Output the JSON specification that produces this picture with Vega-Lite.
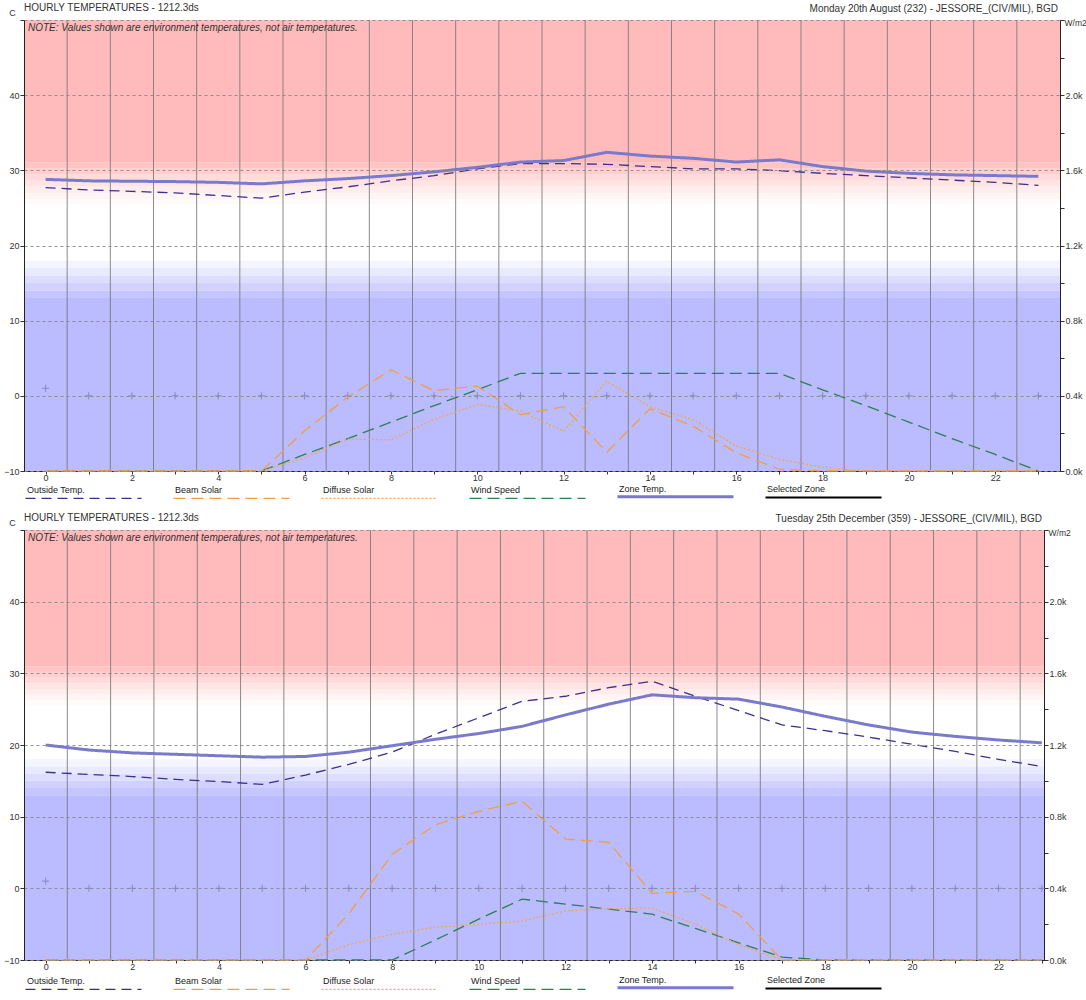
{
  "$schema": "https://vega.github.io/schema/vega-lite/v6.json",
  "background": "white",
  "padding": {"left": 3, "right": 0, "top": 2, "bottom": 0},
  "config": {
    "font": "Liberation Sans",
    "view": {"stroke": "#222", "strokeWidth": 1},
    "axis": {"labelFontSize": 9, "labelColor": "#333", "tickColor": "#333", "domainColor": "#222", "tickSize": 4, "labelPadding": 1, "titleFontSize": 10, "titleFontWeight": "normal", "titleColor": "#333"},
    "axisX": {"tickSize": 3, "labelPadding": -1},
    "legend": {"symbolType": "M0,0.4L14.5,0.4", "symbolSize": 256, "labelFontSize": 9, "labelColor": "#222", "padding": 0, "symbolStrokeWidth": 1.5, "labelOffset": -8, "labelBaseline": "bottom", "columnPadding": 16, "rowPadding": 0}
  },
  "datasets": {
    "hours": [
      {"panel": "aug", "hour": 0, "outside": 27.7, "zone": 28.8, "beam": 0, "diffuse": 0, "wind": -10, "marker": 1},
      {"panel": "aug", "hour": 1, "outside": 27.4, "zone": 28.6, "beam": 0, "diffuse": 0, "wind": -10, "marker": 0},
      {"panel": "aug", "hour": 2, "outside": 27.2, "zone": 28.55, "beam": 0, "diffuse": 0, "wind": -10, "marker": 0},
      {"panel": "aug", "hour": 3, "outside": 27.0, "zone": 28.5, "beam": 0, "diffuse": 0, "wind": -10, "marker": 0},
      {"panel": "aug", "hour": 4, "outside": 26.65, "zone": 28.4, "beam": 0, "diffuse": 0, "wind": -10, "marker": 0},
      {"panel": "aug", "hour": 5, "outside": 26.3, "zone": 28.2, "beam": 0, "diffuse": 0, "wind": -10, "marker": 0},
      {"panel": "aug", "hour": 6, "outside": 27.1, "zone": 28.6, "beam": 214, "diffuse": 71, "wind": -7.8, "marker": 0},
      {"panel": "aug", "hour": 7, "outside": 27.8, "zone": 28.9, "beam": 393, "diffuse": 170, "wind": -5.7, "marker": 0},
      {"panel": "aug", "hour": 8, "outside": 28.6, "zone": 29.3, "beam": 539, "diffuse": 166, "wind": -3.5, "marker": 0},
      {"panel": "aug", "hour": 9, "outside": 29.3, "zone": 29.8, "beam": 427, "diffuse": 275, "wind": -1.3, "marker": 0},
      {"panel": "aug", "hour": 10, "outside": 30.2, "zone": 30.4, "beam": 452, "diffuse": 354, "wind": 0.8, "marker": 0},
      {"panel": "aug", "hour": 11, "outside": 30.9, "zone": 31.1, "beam": 300, "diffuse": 319, "wind": 3, "marker": 0},
      {"panel": "aug", "hour": 12, "outside": 30.9, "zone": 31.3, "beam": 342, "diffuse": 212, "wind": 3, "marker": 0},
      {"panel": "aug", "hour": 13, "outside": 30.8, "zone": 32.4, "beam": 100, "diffuse": 478, "wind": 3, "marker": 0},
      {"panel": "aug", "hour": 14, "outside": 30.5, "zone": 31.9, "beam": 331, "diffuse": 342, "wind": 3, "marker": 0},
      {"panel": "aug", "hour": 15, "outside": 30.2, "zone": 31.6, "beam": 239, "diffuse": 274, "wind": 3, "marker": 0},
      {"panel": "aug", "hour": 16, "outside": 30.2, "zone": 31.1, "beam": 97, "diffuse": 133, "wind": 3, "marker": 0},
      {"panel": "aug", "hour": 17, "outside": 29.95, "zone": 31.4, "beam": 9, "diffuse": 62, "wind": 3, "marker": 0},
      {"panel": "aug", "hour": 18, "outside": 29.6, "zone": 30.5, "beam": 0, "diffuse": 20, "wind": 0.8, "marker": 0},
      {"panel": "aug", "hour": 19, "outside": 29.3, "zone": 29.9, "beam": 0, "diffuse": 0, "wind": -1.3, "marker": 0},
      {"panel": "aug", "hour": 20, "outside": 29.0, "zone": 29.6, "beam": 0, "diffuse": 0, "wind": -3.5, "marker": 0},
      {"panel": "aug", "hour": 21, "outside": 28.7, "zone": 29.4, "beam": 0, "diffuse": 0, "wind": -5.7, "marker": 0},
      {"panel": "aug", "hour": 22, "outside": 28.4, "zone": 29.3, "beam": 0, "diffuse": 0, "wind": -7.8, "marker": 0},
      {"panel": "aug", "hour": 23, "outside": 28.0, "zone": 29.2, "beam": 0, "diffuse": 0, "wind": -10, "marker": 0},
      {"panel": "dec", "hour": 0, "outside": 16.2, "zone": 20.0, "beam": 0, "diffuse": 0, "wind": -10, "marker": 1},
      {"panel": "dec", "hour": 1, "outside": 15.9, "zone": 19.3, "beam": 0, "diffuse": 0, "wind": -10, "marker": 0},
      {"panel": "dec", "hour": 2, "outside": 15.6, "zone": 18.9, "beam": 0, "diffuse": 0, "wind": -10, "marker": 0},
      {"panel": "dec", "hour": 3, "outside": 15.2, "zone": 18.7, "beam": 0, "diffuse": 0, "wind": -10, "marker": 0},
      {"panel": "dec", "hour": 4, "outside": 14.9, "zone": 18.5, "beam": 0, "diffuse": 0, "wind": -10, "marker": 0},
      {"panel": "dec", "hour": 5, "outside": 14.5, "zone": 18.3, "beam": 0, "diffuse": 0, "wind": -10, "marker": 0},
      {"panel": "dec", "hour": 6, "outside": 15.8, "zone": 18.4, "beam": 0, "diffuse": 0, "wind": -10, "marker": 0},
      {"panel": "dec", "hour": 7, "outside": 17.3, "zone": 19.0, "beam": 257, "diffuse": 86, "wind": -10, "marker": 0},
      {"panel": "dec", "hour": 8, "outside": 19.0, "zone": 19.9, "beam": 590, "diffuse": 143, "wind": -10, "marker": 0},
      {"panel": "dec", "hour": 9, "outside": 21.5, "zone": 20.8, "beam": 755, "diffuse": 183, "wind": -7.2, "marker": 0},
      {"panel": "dec", "hour": 10, "outside": 23.8, "zone": 21.6, "beam": 830, "diffuse": 200, "wind": -4.3, "marker": 0},
      {"panel": "dec", "hour": 11, "outside": 26.1, "zone": 22.6, "beam": 886, "diffuse": 217, "wind": -1.5, "marker": 0},
      {"panel": "dec", "hour": 12, "outside": 26.8, "zone": 24.2, "beam": 675, "diffuse": 274, "wind": -2.2, "marker": 0},
      {"panel": "dec", "hour": 13, "outside": 28.0, "zone": 25.7, "beam": 657, "diffuse": 286, "wind": -2.9, "marker": 0},
      {"panel": "dec", "hour": 14, "outside": 28.9, "zone": 27.0, "beam": 372, "diffuse": 290, "wind": -3.6, "marker": 0},
      {"panel": "dec", "hour": 15, "outside": 26.8, "zone": 26.6, "beam": 383, "diffuse": 200, "wind": -5.6, "marker": 0},
      {"panel": "dec", "hour": 16, "outside": 24.8, "zone": 26.4, "beam": 257, "diffuse": 86, "wind": -7.6, "marker": 0},
      {"panel": "dec", "hour": 17, "outside": 22.8, "zone": 25.3, "beam": 0, "diffuse": 0, "wind": -9.6, "marker": 0},
      {"panel": "dec", "hour": 18, "outside": 22.0, "zone": 24.0, "beam": 0, "diffuse": 0, "wind": -10, "marker": 0},
      {"panel": "dec", "hour": 19, "outside": 21.1, "zone": 22.8, "beam": 0, "diffuse": 0, "wind": -10, "marker": 0},
      {"panel": "dec", "hour": 20, "outside": 20.1, "zone": 21.8, "beam": 0, "diffuse": 0, "wind": -10, "marker": 0},
      {"panel": "dec", "hour": 21, "outside": 19.1, "zone": 21.2, "beam": 0, "diffuse": 0, "wind": -10, "marker": 0},
      {"panel": "dec", "hour": 22, "outside": 18.0, "zone": 20.7, "beam": 0, "diffuse": 0, "wind": -10, "marker": 0},
      {"panel": "dec", "hour": 23, "outside": 17.0, "zone": 20.3, "beam": 0, "diffuse": 0, "wind": -10, "marker": 0}
    ],
    "bands": [
      {"lo": 31, "hi": 50, "tone": "r6"},
      {"lo": 30.2, "hi": 31, "tone": "r5"},
      {"lo": 29.4, "hi": 30.2, "tone": "r4"},
      {"lo": 28.6, "hi": 29.4, "tone": "r3"},
      {"lo": 27.8, "hi": 28.6, "tone": "r2"},
      {"lo": 27, "hi": 27.8, "tone": "r1"},
      {"lo": 26.2, "hi": 27, "tone": "r0"},
      {"lo": 25.5, "hi": 26.2, "tone": "rz"},
      {"lo": 18, "hi": 25.5, "tone": "w"},
      {"lo": 17, "hi": 18, "tone": "b0"},
      {"lo": 16, "hi": 17, "tone": "b1"},
      {"lo": 15, "hi": 16, "tone": "b2"},
      {"lo": 14, "hi": 15, "tone": "b3"},
      {"lo": 13, "hi": 14, "tone": "b4"},
      {"lo": -10, "hi": 13, "tone": "b5"}
    ],
    "halfhours": [
      {"h": 0.5}, {"h": 1.5}, {"h": 2.5}, {"h": 3.5}, {"h": 4.5}, {"h": 5.5}, {"h": 6.5}, {"h": 7.5},
      {"h": 8.5}, {"h": 9.5}, {"h": 10.5}, {"h": 11.5}, {"h": 12.5}, {"h": 13.5}, {"h": 14.5}, {"h": 15.5},
      {"h": 16.5}, {"h": 17.5}, {"h": 18.5}, {"h": 19.5}, {"h": 20.5}, {"h": 21.5}, {"h": 22.5}
    ],
    "texts": [
      {"panel": "aug", "title": "HOURLY TEMPERATURES - 1212.3ds", "note": "NOTE: Values shown are environment temperatures, not air temperatures.", "date": "Monday 20th August (232) - JESSORE_(CIV/MIL), BGD"},
      {"panel": "dec", "title": "HOURLY TEMPERATURES - 1212.3ds", "note": "NOTE: Values shown are environment temperatures, not air temperatures.", "date": "Tuesday 25th December (359) - JESSORE_(CIV/MIL), BGD"}
    ]
  },
  "spacing": 8,
  "resolve": {
    "scale": {"color": "independent", "strokeDash": "independent", "strokeWidth": "independent"},
    "legend": {"color": "independent", "strokeDash": "independent"}
  },
  "vconcat": [
    {
      "width": 1036,
      "height": 451,
      "layer": [
        {
          "layer": [
            {
              "data": {"name": "bands"},
              "mark": {"type": "rect"},
              "encoding": {
                "y": {"field": "lo", "type": "quantitative", "scale": {"domain": [-10, 50], "nice": false, "zero": false},
                  "axis": {"orient": "left", "values": [-10, -5, 0, 5, 10, 15, 20, 25, 30, 35, 40, 45, 50], "labelExpr": "datum.value % 10 == 0 && datum.value < 50 ? datum.label : ''", "grid": true, "gridDash": [3, 3], "gridColor": "#888", "gridOpacity": 0.9, "zindex": 1, "title": "C", "titleAngle": 0, "titleX": -12, "titleY": -8, "titleAlign": "center", "titleBaseline": "middle", "titleFontSize": 9}},
                "y2": {"field": "hi"},
                "fill": {"field": "tone", "type": "nominal", "scale": {"domain": ["r6", "r5", "r4", "r3", "r2", "r1", "r0", "rz", "w", "b0", "b1", "b2", "b3", "b4", "b5"], "range": ["#FFBBBB", "#FFC5C5", "#FFCFCF", "#FFDADA", "#FFE4E4", "#FFEDED", "#FFF5F5", "#FFFBFB", "#FFFFFF", "#F5F5FF", "#EAEAFF", "#DDDDFF", "#D1D1FF", "#C5C5FF", "#BBBBFF"]}, "legend": null}
              }
            },
            {
              "data": {"name": "halfhours"},
              "mark": {"type": "rule", "color": "#777", "opacity": 0.85, "strokeWidth": 1},
              "encoding": {
                "x": {"field": "h", "type": "quantitative", "scale": {"domain": [-0.5, 23.5], "nice": false, "zero": false},
                  "axis": {"values": [0, 1, 2, 3, 4, 5, 6, 7, 8, 9, 10, 11, 12, 13, 14, 15, 16, 17, 18, 19, 20, 21, 22, 23], "labelExpr": "datum.value % 2 == 0 ? datum.label : ''", "grid": false, "title": null}}
              }
            },
            {
              "data": {"name": "hours"},
              "transform": [{"filter": "datum.panel == 'aug'"}, {"fold": ["outside", "wind", "zone"], "as": ["key", "value"]}],
              "mark": {"type": "line"},
              "encoding": {
                "x": {"field": "hour", "type": "quantitative"},
                "y": {"field": "value", "type": "quantitative"},
                "color": {"field": "key", "type": "nominal", "scale": {"domain": ["outside", "beam", "diffuse", "wind", "zone", "selected"], "range": ["#3B2F8F", "#F0A040", "#F0A850", "#2F7F4F", "#7A7ACC", "#000000"]},
                  "legend": {"title": null, "orient": "none", "legendX": -8, "legendY": 464, "direction": "horizontal", "columns": 6, "gridAlign": "all", "labelExpr": "datum.label == 'outside' ? 'Outside Temp.' : datum.label == 'beam' ? 'Beam Solar' : datum.label == 'diffuse' ? 'Diffuse Solar' : datum.label == 'wind' ? 'Wind Speed' : datum.label == 'zone' ? 'Zone Temp.' : 'Selected Zone'"}},
                "strokeDash": {"field": "key", "type": "nominal", "scale": {"domain": ["outside", "beam", "diffuse", "wind", "zone", "selected"], "range": [[10, 6], [12, 6], [2, 2], [12, 6], [1, 0], [1, 0]]},
                  "legend": {"title": null, "orient": "none", "legendX": -8, "legendY": 464, "direction": "horizontal", "columns": 6, "gridAlign": "all", "labelExpr": "datum.label == 'outside' ? 'Outside Temp.' : datum.label == 'beam' ? 'Beam Solar' : datum.label == 'diffuse' ? 'Diffuse Solar' : datum.label == 'wind' ? 'Wind Speed' : datum.label == 'zone' ? 'Zone Temp.' : 'Selected Zone'"}},
                "strokeWidth": {"field": "key", "type": "nominal", "scale": {"type": "ordinal", "domain": ["outside", "beam", "diffuse", "wind", "zone", "selected"], "range": [1.3, 1.3, 1.3, 1.3, 3, 2]}, "legend": null}
              }
            },
            {
              "data": {"name": "hours"},
              "transform": [{"filter": "datum.panel == 'aug'"}],
              "mark": {"type": "point", "shape": "M-1,0L1,0M0,-1L0,1", "size": 50, "filled": false, "color": "#7070C0", "strokeWidth": 1},
              "encoding": {
                "x": {"field": "hour", "type": "quantitative"},
                "y": {"field": "marker", "type": "quantitative"}
              }
            },
            {
              "data": {"name": "texts"},
              "transform": [{"filter": "datum.panel == 'aug'"}],
              "layer": [
                {
                  "mark": {"type": "text", "align": "left", "baseline": "top", "dx": 4, "dy": 3, "fontSize": 10, "fontStyle": "italic", "color": "#333"},
                  "encoding": {"x": {"datum": -0.5, "type": "quantitative"}, "y": {"datum": 50, "type": "quantitative"}, "text": {"field": "note"}}
                },
                {
                  "mark": {"type": "text", "align": "left", "baseline": "alphabetic", "dx": 0, "dy": -9, "fontSize": 10, "color": "#333"},
                  "encoding": {"x": {"datum": -0.5, "type": "quantitative"}, "y": {"datum": 50, "type": "quantitative"}, "text": {"field": "title"}}
                },
                {
                  "mark": {"type": "text", "align": "right", "baseline": "alphabetic", "dx": -2, "dy": -8, "fontSize": 10, "color": "#333"},
                  "encoding": {"x": {"datum": 23.5, "type": "quantitative"}, "y": {"datum": 50, "type": "quantitative"}, "text": {"field": "date"}}
                }
              ]
            }
          ]
        },
        {
          "data": {"name": "hours"},
          "transform": [{"filter": "datum.panel == 'aug'"}, {"fold": ["beam", "diffuse"], "as": ["key", "value"]}],
          "mark": {"type": "line"},
          "encoding": {
            "x": {"field": "hour", "type": "quantitative"},
            "y": {"field": "value", "type": "quantitative", "scale": {"domain": [0, 2400], "nice": false, "zero": false},
              "axis": {"orient": "right", "values": [0, 200, 400, 600, 800, 1000, 1200, 1400, 1600, 1800, 2000, 2200, 2400], "labelExpr": "datum.value % 400 == 0 && datum.value < 2400 ? format(datum.value / 1000, '.1f') + 'k' : ''", "grid": false, "title": "W/m2", "titleAngle": 0, "titleAlign": "left", "titleBaseline": "middle", "titleX": 4, "titleY": 2, "titleFontSize": 8.5}},
            "color": {"field": "key", "type": "nominal", "scale": {"domain": ["outside", "beam", "diffuse", "wind", "zone", "selected"], "range": ["#3B2F8F", "#F0A040", "#F0A850", "#2F7F4F", "#7A7ACC", "#000000"]}},
            "strokeDash": {"field": "key", "type": "nominal", "scale": {"domain": ["outside", "beam", "diffuse", "wind", "zone", "selected"], "range": [[10, 6], [12, 6], [2, 2], [12, 6], [1, 0], [1, 0]]}},
            "strokeWidth": {"field": "key", "type": "nominal", "scale": {"type": "ordinal", "domain": ["outside", "beam", "diffuse", "wind", "zone", "selected"], "range": [1.3, 1.3, 1.3, 1.3, 3, 2]}, "legend": null}
          }
        }
      ],
      "resolve": {"scale": {"y": "independent"}}
    },
    {
      "width": 1020,
      "height": 430,
      "layer": [
        {
          "layer": [
            {
              "data": {"name": "bands"},
              "mark": {"type": "rect"},
              "encoding": {
                "y": {"field": "lo", "type": "quantitative", "scale": {"domain": [-10, 50], "nice": false, "zero": false},
                  "axis": {"orient": "left", "values": [-10, -5, 0, 5, 10, 15, 20, 25, 30, 35, 40, 45, 50], "labelExpr": "datum.value % 10 == 0 && datum.value < 50 ? datum.label : ''", "grid": true, "gridDash": [3, 3], "gridColor": "#888", "gridOpacity": 0.9, "zindex": 1, "title": "C", "titleAngle": 0, "titleX": -12, "titleY": -8, "titleAlign": "center", "titleBaseline": "middle", "titleFontSize": 9}},
                "y2": {"field": "hi"},
                "fill": {"field": "tone", "type": "nominal", "scale": {"domain": ["r6", "r5", "r4", "r3", "r2", "r1", "r0", "rz", "w", "b0", "b1", "b2", "b3", "b4", "b5"], "range": ["#FFBBBB", "#FFC5C5", "#FFCFCF", "#FFDADA", "#FFE4E4", "#FFEDED", "#FFF5F5", "#FFFBFB", "#FFFFFF", "#F5F5FF", "#EAEAFF", "#DDDDFF", "#D1D1FF", "#C5C5FF", "#BBBBFF"]}, "legend": null}
              }
            },
            {
              "data": {"name": "halfhours"},
              "mark": {"type": "rule", "color": "#777", "opacity": 0.85, "strokeWidth": 1},
              "encoding": {
                "x": {"field": "h", "type": "quantitative", "scale": {"domain": [-0.5, 23.05], "nice": false, "zero": false},
                  "axis": {"values": [0, 1, 2, 3, 4, 5, 6, 7, 8, 9, 10, 11, 12, 13, 14, 15, 16, 17, 18, 19, 20, 21, 22, 23], "labelExpr": "datum.value % 2 == 0 ? datum.label : ''", "grid": false, "title": null}}
              }
            },
            {
              "data": {"name": "hours"},
              "transform": [{"filter": "datum.panel == 'dec'"}, {"fold": ["outside", "wind", "zone"], "as": ["key", "value"]}],
              "mark": {"type": "line"},
              "encoding": {
                "x": {"field": "hour", "type": "quantitative"},
                "y": {"field": "value", "type": "quantitative"},
                "color": {"field": "key", "type": "nominal", "scale": {"domain": ["outside", "beam", "diffuse", "wind", "zone", "selected"], "range": ["#3B2F8F", "#F0A040", "#F0A850", "#2F7F4F", "#7A7ACC", "#000000"]},
                  "legend": {"title": null, "orient": "none", "legendX": -8, "legendY": 445, "direction": "horizontal", "columns": 6, "gridAlign": "all", "labelExpr": "datum.label == 'outside' ? 'Outside Temp.' : datum.label == 'beam' ? 'Beam Solar' : datum.label == 'diffuse' ? 'Diffuse Solar' : datum.label == 'wind' ? 'Wind Speed' : datum.label == 'zone' ? 'Zone Temp.' : 'Selected Zone'"}},
                "strokeDash": {"field": "key", "type": "nominal", "scale": {"domain": ["outside", "beam", "diffuse", "wind", "zone", "selected"], "range": [[10, 6], [12, 6], [2, 2], [12, 6], [1, 0], [1, 0]]},
                  "legend": {"title": null, "orient": "none", "legendX": -8, "legendY": 445, "direction": "horizontal", "columns": 6, "gridAlign": "all", "labelExpr": "datum.label == 'outside' ? 'Outside Temp.' : datum.label == 'beam' ? 'Beam Solar' : datum.label == 'diffuse' ? 'Diffuse Solar' : datum.label == 'wind' ? 'Wind Speed' : datum.label == 'zone' ? 'Zone Temp.' : 'Selected Zone'"}},
                "strokeWidth": {"field": "key", "type": "nominal", "scale": {"type": "ordinal", "domain": ["outside", "beam", "diffuse", "wind", "zone", "selected"], "range": [1.3, 1.3, 1.3, 1.3, 3, 2]}, "legend": null}
              }
            },
            {
              "data": {"name": "hours"},
              "transform": [{"filter": "datum.panel == 'dec'"}],
              "mark": {"type": "point", "shape": "M-1,0L1,0M0,-1L0,1", "size": 50, "filled": false, "color": "#7070C0", "strokeWidth": 1},
              "encoding": {
                "x": {"field": "hour", "type": "quantitative"},
                "y": {"field": "marker", "type": "quantitative"}
              }
            },
            {
              "data": {"name": "texts"},
              "transform": [{"filter": "datum.panel == 'dec'"}],
              "layer": [
                {
                  "mark": {"type": "text", "align": "left", "baseline": "top", "dx": 4, "dy": 3, "fontSize": 10, "fontStyle": "italic", "color": "#333"},
                  "encoding": {"x": {"datum": -0.5, "type": "quantitative"}, "y": {"datum": 50, "type": "quantitative"}, "text": {"field": "note"}}
                },
                {
                  "mark": {"type": "text", "align": "left", "baseline": "alphabetic", "dx": 0, "dy": -9, "fontSize": 10, "color": "#333"},
                  "encoding": {"x": {"datum": -0.5, "type": "quantitative"}, "y": {"datum": 50, "type": "quantitative"}, "text": {"field": "title"}}
                },
                {
                  "mark": {"type": "text", "align": "right", "baseline": "alphabetic", "dx": -2, "dy": -8, "fontSize": 10, "color": "#333"},
                  "encoding": {"x": {"datum": 23.05, "type": "quantitative"}, "y": {"datum": 50, "type": "quantitative"}, "text": {"field": "date"}}
                }
              ]
            }
          ]
        },
        {
          "data": {"name": "hours"},
          "transform": [{"filter": "datum.panel == 'dec'"}, {"fold": ["beam", "diffuse"], "as": ["key", "value"]}],
          "mark": {"type": "line"},
          "encoding": {
            "x": {"field": "hour", "type": "quantitative"},
            "y": {"field": "value", "type": "quantitative", "scale": {"domain": [0, 2400], "nice": false, "zero": false},
              "axis": {"orient": "right", "values": [0, 200, 400, 600, 800, 1000, 1200, 1400, 1600, 1800, 2000, 2200, 2400], "labelExpr": "datum.value % 400 == 0 && datum.value < 2400 ? format(datum.value / 1000, '.1f') + 'k' : ''", "grid": false, "title": "W/m2", "titleAngle": 0, "titleAlign": "left", "titleBaseline": "middle", "titleX": 4, "titleY": 2, "titleFontSize": 8.5}},
            "color": {"field": "key", "type": "nominal", "scale": {"domain": ["outside", "beam", "diffuse", "wind", "zone", "selected"], "range": ["#3B2F8F", "#F0A040", "#F0A850", "#2F7F4F", "#7A7ACC", "#000000"]}},
            "strokeDash": {"field": "key", "type": "nominal", "scale": {"domain": ["outside", "beam", "diffuse", "wind", "zone", "selected"], "range": [[10, 6], [12, 6], [2, 2], [12, 6], [1, 0], [1, 0]]}},
            "strokeWidth": {"field": "key", "type": "nominal", "scale": {"type": "ordinal", "domain": ["outside", "beam", "diffuse", "wind", "zone", "selected"], "range": [1.3, 1.3, 1.3, 1.3, 3, 2]}, "legend": null}
          }
        }
      ],
      "resolve": {"scale": {"y": "independent"}}
    }
  ]
}
